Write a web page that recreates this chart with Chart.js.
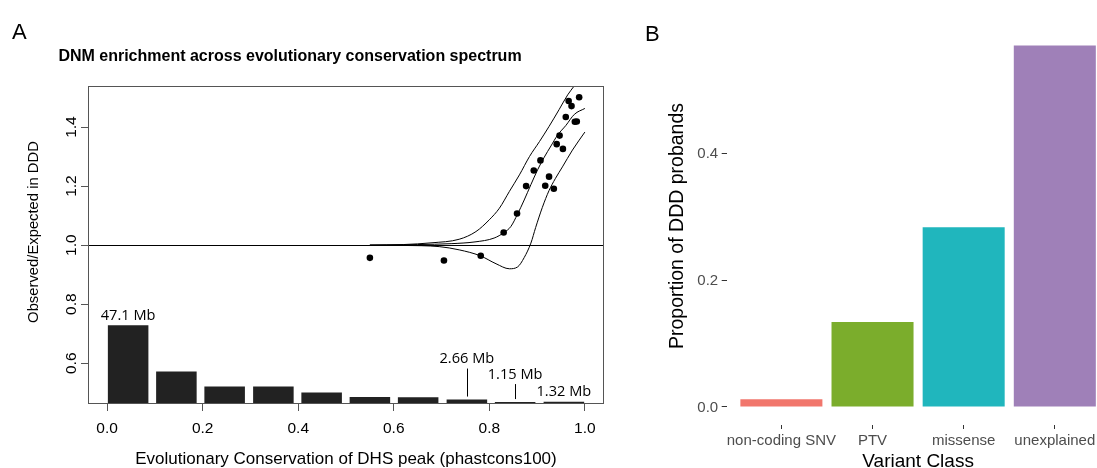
<!DOCTYPE html>
<html>
<head>
<meta charset="utf-8">
<script src="https://cdn.jsdelivr.net/npm/chart.js@4.4.1/dist/chart.umd.min.js"></script>
<style>
  html, body { margin: 0; padding: 0; background: #fff; overflow: hidden; width: 1097px; height: 468px; }
  #chartA { position: absolute; left: 0; top: 0; }
  #chartB { position: absolute; left: 640px; top: 0; }
</style>
</head>
<body>
<canvas id="chartA" width="620" height="468"></canvas>
<canvas id="chartB" width="480" height="468"></canvas>
<script>
// --- PANEL A DATA ---
const binCenters = [0.044, 0.145, 0.246, 0.348, 0.449, 0.550, 0.651, 0.753, 0.854, 0.956];
const binMb = [47.1, 19.4, 10.4, 10.5, 6.8, 4.2, 4.0, 2.66, 1.15, 1.32];
const labelledBins = [0, 7, 8, 9];

const obsX = [0.550, 0.705, 0.782, 0.830, 0.858, 0.877, 0.893, 0.907, 0.917, 0.925,
              0.935, 0.941, 0.947, 0.954, 0.960, 0.966, 0.972, 0.979, 0.983, 0.988];
const obsY = [0.957, 0.948, 0.964, 1.043, 1.107, 1.200, 1.253, 1.287, 1.201, 1.232,
              1.191, 1.342, 1.371, 1.326, 1.434, 1.488, 1.471, 1.418, 1.419, 1.501];

const fitX = [0.55, 0.65, 0.72, 0.77, 0.81, 0.831, 0.845, 0.859, 0.873, 0.887, 0.901, 0.915, 0.929, 0.943, 0.960, 0.978, 1.0];
const fitY = [1.000, 1.002, 1.005, 1.011, 1.024, 1.043, 1.063, 1.105, 1.153, 1.205, 1.255, 1.298, 1.336, 1.373, 1.405, 1.443, 1.463];
const upperX = [0.55, 0.62, 0.68, 0.737, 0.772, 0.800, 0.821, 0.842, 0.863, 0.884, 0.905, 0.925, 0.946, 0.964, 0.978, 1.0];
const upperY = [1.000, 1.002, 1.008, 1.020, 1.046, 1.086, 1.125, 1.182, 1.238, 1.300, 1.351, 1.402, 1.459, 1.509, 1.540, 1.590];
const lowerX = [0.55, 0.62, 0.695, 0.737, 0.781, 0.814, 0.842, 0.859, 0.873, 0.887, 0.897, 0.911, 0.925, 0.938, 0.953, 0.974, 1.0];
const lowerY = [1.000, 0.999, 0.995, 0.984, 0.964, 0.937, 0.920, 0.926, 0.958, 1.007, 1.060, 1.128, 1.185, 1.225, 1.265, 1.322, 1.383];

const xTicksA = [0, 0.2, 0.4, 0.6, 0.8, 1.0];
const yTicksA = [0.6, 0.8, 1.0, 1.2, 1.4];

// --- PANEL B DATA ---
const variantClasses = ['non-coding SNV', 'PTV', 'missense', 'unexplained'];
const probandShare = [0.012, 0.134, 0.284, 0.571];
const yTicksB = [0.0, 0.2, 0.4];

// styling
const leaderLen = [0, 28, 15, 0];   // label leader lines for labelledBins
const colorsB = ['#F1766C', '#7BAD2C', '#20B6BD', '#9F80B8'];
const SANS = '"Liberation Sans", Arial, sans-serif';

function pairs(xs, ys) {
    return xs.map((x, i) => ({ x: x, y: ys[i] }));
}

function curveSet(xs, ys) {
    return {
        type: 'line', data: pairs(xs, ys), borderColor: '#000', borderWidth: 1,
        pointRadius: 0, cubicInterpolationMode: 'monotone', yAxisID: 'y', order: 1
    };
}

// --- 1. PANEL A: decorations (box, reference line, labels) ---
const panelADecor = {
    id: 'panelADecor',
    beforeDatasetsDraw(chart) {
        const { ctx, chartArea: a, scales: { y } } = chart;
        const py = Math.round(y.getPixelForValue(1)) + 0.5;
        ctx.save();
        ctx.strokeStyle = '#000';
        ctx.lineWidth = 1;
        ctx.beginPath();
        ctx.moveTo(a.left, py);
        ctx.lineTo(a.right, py);
        ctx.stroke();
        ctx.restore();
    },
    afterDraw(chart) {
        const { ctx, chartArea: a, scales: { x, y, yMb } } = chart;
        ctx.save();
        ctx.strokeStyle = '#555';
        ctx.lineWidth = 1;
        ctx.strokeRect(a.left + 0.5, a.top + 0.5, a.width - 1, a.height - 1);

        // Mb labels on histogram
        ctx.fillStyle = '#000';
        ctx.strokeStyle = '#000';
        ctx.font = '14.6px "Open Sans", sans-serif';
        ctx.textAlign = 'center';
        ctx.textBaseline = 'alphabetic';
        labelledBins.forEach((b, k) => {
            const px = x.getPixelForValue(binCenters[b]);
            let anchor = yMb.getPixelForValue(binMb[b]);
            if (leaderLen[k] > 0) {
                const lx = Math.round(px) + 0.5;
                ctx.beginPath();
                ctx.moveTo(lx, anchor - 3);
                ctx.lineTo(lx, anchor - 3 - leaderLen[k]);
                ctx.stroke();
                anchor = anchor - 3 - leaderLen[k];
            }
            ctx.fillText(binMb[b] + ' Mb', px, anchor - 5.5);
        });

        // tick labels
        ctx.font = '15.5px ' + SANS;
        xTicksA.forEach(v => ctx.fillText(v.toFixed(1), x.getPixelForValue(v), a.bottom + 28.7));
        yTicksA.forEach(v => {
            ctx.save();
            ctx.translate(a.left - 16, y.getPixelForValue(v));
            ctx.rotate(-Math.PI / 2);
            ctx.textBaseline = 'middle';
            ctx.fillText(v.toFixed(1), 0, 0);
            ctx.restore();
        });

        // axis titles
        ctx.font = '17px ' + SANS;
        ctx.fillText('Evolutionary Conservation of DHS peak (phastcons100)', (a.left + a.right) / 2, 464);
        ctx.save();
        ctx.font = '14.8px ' + SANS;
        ctx.translate(34, 232);
        ctx.rotate(-Math.PI / 2);
        ctx.textBaseline = 'middle';
        ctx.fillText('Observed/Expected in DDD', 0, 0);
        ctx.restore();

        // main title and panel tag
        ctx.font = 'bold 16px ' + SANS;
        ctx.fillText('DNM enrichment across evolutionary conservation spectrum', 290, 60.7);
        ctx.textAlign = 'left';
        ctx.font = '22px ' + SANS;
        ctx.fillText('A', 12, 39);
        ctx.restore();
    }
};

// --- 2. PANEL B: labels ---
const panelBDecor = {
    id: 'panelBDecor',
    afterDraw(chart) {
        const { ctx, chartArea: a, scales: { x, y } } = chart;
        ctx.save();
        ctx.fillStyle = '#4d4d4d';
        ctx.font = '15px ' + SANS;
        ctx.textAlign = 'right';
        ctx.textBaseline = 'middle';
        yTicksB.forEach(v => ctx.fillText(v.toFixed(1), a.left - 8.5, y.getPixelForValue(v) + 0.5));
        ctx.textAlign = 'center';
        ctx.textBaseline = 'alphabetic';
        variantClasses.forEach((c, i) => ctx.fillText(c, x.getPixelForValue(i), 445));

        ctx.fillStyle = '#000';
        ctx.font = '19px ' + SANS;
        ctx.fillText('Variant Class', (a.left + a.right) / 2, 467);
        ctx.save();
        ctx.font = '19.5px ' + SANS;
        ctx.translate(38, (a.top + a.bottom) / 2);
        ctx.rotate(-Math.PI / 2);
        ctx.textBaseline = 'middle';
        ctx.fillText('Proportion of DDD probands', 0, 0);
        ctx.restore();

        ctx.textAlign = 'left';
        ctx.font = '22px ' + SANS;
        ctx.fillText('B', 5, 40.7);
        ctx.restore();
    }
};

// --- 3. CHARTS ---
new Chart(document.getElementById('chartA'), {
    data: {
        datasets: [
            {
                type: 'scatter', data: pairs(obsX, obsY), yAxisID: 'y', order: 0,
                pointRadius: 3.3, pointBackgroundColor: '#000', pointBorderWidth: 0
            },
            curveSet(fitX, fitY),
            curveSet(upperX, upperY),
            curveSet(lowerX, lowerY),
            {
                type: 'bar', data: pairs(binCenters, binMb), yAxisID: 'yMb', order: 3,
                backgroundColor: '#222222', borderWidth: 0,
                barPercentage: 0.84, categoryPercentage: 1
            }
        ]
    },
    options: {
        responsive: false, animation: false,
        layout: { padding: { top: 86, right: 16, left: 0, bottom: 0 } },
        plugins: { legend: { display: false }, tooltip: { enabled: false } },
        scales: {
            x: {
                type: 'linear', min: -0.04, max: 1.04, offset: false,
                afterBuildTicks: s => { s.ticks = xTicksA.map(v => ({ value: v })); },
                afterFit: s => { s.height = 64; },
                ticks: { display: false },
                grid: { drawOnChartArea: false, tickLength: 7, color: '#555', offset: false },
                border: { display: false }
            },
            y: {
                type: 'linear', position: 'left', min: 0.462, max: 1.539,
                afterBuildTicks: s => { s.ticks = yTicksA.map(v => ({ value: v })); },
                afterFit: s => { s.width = 88; },
                ticks: { display: false },
                grid: { drawOnChartArea: false, tickLength: 7, color: '#555' },
                border: { display: false }
            },
            yMb: { type: 'linear', position: 'right', display: false, min: 0, max: 190 }
        }
    },
    plugins: [panelADecor]
});

new Chart(document.getElementById('chartB'), {
    type: 'bar',
    data: {
        datasets: [{
            data: pairs(variantClasses.map((c, i) => i), probandShare),
            backgroundColor: colorsB, borderWidth: 0,
            barPercentage: 0.9, categoryPercentage: 1
        }]
    },
    options: {
        responsive: false, animation: false,
        layout: { padding: { top: 27, right: 10.5, left: 0, bottom: 0 } },
        plugins: { legend: { display: false }, tooltip: { enabled: false } },
        scales: {
            x: {
                type: 'linear', min: -0.6, max: 3.6, offset: false,
                afterBuildTicks: s => { s.ticks = variantClasses.map((c, i) => ({ value: i })); },
                afterFit: s => { s.height = 43; },
                ticks: { display: false },
                grid: { drawOnChartArea: false, tickLength: 4, color: '#333', offset: false },
                border: { display: false }
            },
            y: {
                type: 'linear', min: -0.0286, max: 0.6002,
                afterBuildTicks: s => { s.ticks = yTicksB.map(v => ({ value: v })); },
                afterFit: s => { s.width = 86.7; },
                ticks: { display: false },
                grid: { drawOnChartArea: false, tickLength: 5, color: '#333' },
                border: { display: false }
            }
        }
    },
    plugins: [panelBDecor]
});
</script>
</body>
</html>
